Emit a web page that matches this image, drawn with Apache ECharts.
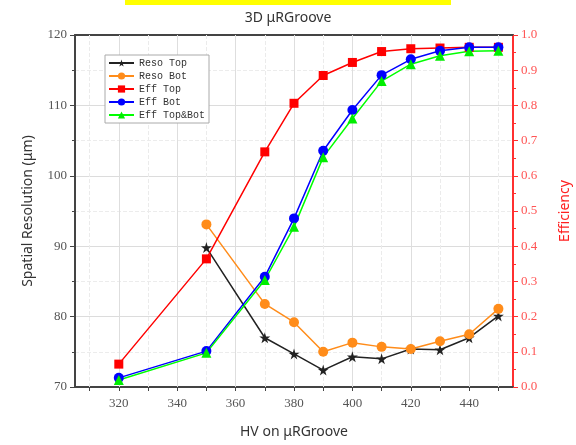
<!DOCTYPE html>
<html>
<head>
<meta charset="utf-8">
<script src="https://cdn.jsdelivr.net/npm/echarts@6/dist/echarts.min.js"></script>
<style>
  html, body { margin: 0; padding: 0; background: #fff; }
  #chart { width: 576px; height: 445px; }
</style>
</head>
<body>
<div id="chart"></div>
<script>
// HV values (x)
const hv = [320, 350, 370, 380, 390, 400, 410, 420, 430, 440, 450];
const hvReso = [350, 370, 380, 390, 400, 410, 420, 430, 440, 450];

// resolution (left axis, µm)
const resoTop = [89.8, 77.0, 74.7, 72.4, 74.3, 74.0, 75.4, 75.3, 77.0, 80.1];
const resoBot = [93.1, 81.8, 79.2, 75.0, 76.3, 75.7, 75.4, 76.5, 77.5, 81.1];

// efficiency (right axis)
const effTop = [0.065, 0.364, 0.668, 0.806, 0.885, 0.922, 0.953, 0.961, 0.963, 0.965, 0.965];
const effBot = [0.026, 0.102, 0.313, 0.479, 0.671, 0.787, 0.886, 0.931, 0.955, 0.965, 0.965];
const effBoth = [0.020, 0.097, 0.304, 0.455, 0.653, 0.763, 0.869, 0.917, 0.941, 0.954, 0.955];

// tick labels
const xTicks = [310, 320, 330, 340, 350, 360, 370, 380, 390, 400, 410, 420, 430, 440, 450];
const xLabels = [320, 340, 360, 380, 400, 420, 440];

const pair = (xs, ys) => xs.map((x, i) => [x, ys[i]]);

const starPath = 'path://M50,0 L61,35 L98,35 L68,57 L79,91 L50,70 L21,91 L32,57 L2,35 L39,35 Z';
const serif = '"Liberation Serif", "DejaVu Serif", serif';
const sans = '"Noto Sans", "DejaVu Sans", sans-serif';

// vertical grid: solid on labelled ticks, dashed between
const vGrid = xTicks.map(v => ({
  xAxis: v,
  lineStyle: xLabels.includes(v)
    ? { color: '#dedede', type: 'solid', width: 1 }
    : { color: '#ebebeb', type: 'dashed', width: 1 }
}));

const chart = echarts.init(document.getElementById('chart'));

const option = {
  animation: false,
  title: {
    text: '3D μRGroove',
    left: 'center',
    top: 6,
    textStyle: { fontFamily: sans, fontSize: 14, fontWeight: 'normal', color: '#333' }
  },
  graphic: [
    { type: 'rect', shape: { x: 125, y: 0, width: 326, height: 5 }, style: { fill: '#ffff00' } }
  ],
  grid: { left: 75, right: 63, top: 35, bottom: 58, outerBoundsMode: 'none' },
  legend: {
    orient: 'vertical',
    left: 105,
    top: 55,
    itemWidth: 25,
    itemHeight: 9,
    itemGap: 3,
    padding: [3, 4, 3, 3],
    backgroundColor: '#fff',
    borderColor: '#aaa',
    borderWidth: 1,
    textStyle: { fontFamily: '"Liberation Mono", monospace', fontSize: 10, color: '#333' },
    data: ['Reso Top', 'Reso Bot', 'Eff Top', 'Eff Bot', 'Eff Top&Bot']
  },
  xAxis: [
    {
      type: 'value',
      min: 305,
      max: 455,
      name: 'HV on μRGroove',
      nameLocation: 'middle',
      nameGap: 38,
      nameTextStyle: { fontFamily: sans, fontSize: 14, color: '#333' },
      axisLine: { lineStyle: { color: '#444', width: 2 } },
      axisTick: { customValues: xTicks, length: 4, lineStyle: { color: '#444' } },
      axisLabel: { customValues: xLabels, fontFamily: serif, fontSize: 13, color: '#555', margin: 10 },
      splitLine: { show: false }
    },
    {
      type: 'value',
      position: 'top',
      min: 305,
      max: 455,
      axisLine: { show: true, lineStyle: { color: '#444', width: 2 } },
      axisTick: { show: true, inside: true, customValues: xTicks, length: 4, lineStyle: { color: '#444' } },
      axisLabel: { show: false },
      splitLine: { show: false }
    }
  ],
  yAxis: [
    {
      type: 'value',
      min: 70,
      max: 120,
      interval: 10,
      name: 'Spatial Resolution (μm)',
      nameLocation: 'middle',
      nameGap: 40,
      nameTextStyle: { fontFamily: sans, fontSize: 14, color: '#333' },
      axisLine: { show: true, lineStyle: { color: '#444', width: 2 } },
      axisTick: { show: true, length: 5, lineStyle: { color: '#444' } },
      minorTick: { show: true, splitNumber: 2, length: 3, lineStyle: { color: '#444' } },
      axisLabel: { fontFamily: serif, fontSize: 13, color: '#555', margin: 8 },
      splitLine: { show: true, lineStyle: { color: '#dcdcdc' } },
      minorSplitLine: { show: true, lineStyle: { color: '#ececec', type: 'dashed' } }
    },
    {
      type: 'value',
      min: 0,
      max: 1,
      interval: 0.1,
      position: 'right',
      name: 'Efficiency',
      nameLocation: 'middle',
      nameRotate: 90,
      nameGap: 45,
      nameTextStyle: { fontFamily: sans, fontSize: 14, color: '#ff2020' },
      axisLine: { show: true, lineStyle: { color: '#ff3030', width: 2 } },
      axisTick: { show: true, length: 5, lineStyle: { color: '#ff3030' } },
      minorTick: { show: true, splitNumber: 2, length: 3, lineStyle: { color: '#ff3030' } },
      axisLabel: {
        fontFamily: serif, fontSize: 13, color: '#ff5555', margin: 8,
        formatter: v => v.toFixed(1)
      },
      splitLine: { show: false }
    }
  ],
  series: [
    {
      name: 'Reso Top', type: 'line', yAxisIndex: 0,
      data: pair(hvReso, resoTop),
      symbol: starPath, symbolSize: 11,
      lineStyle: { color: '#222', width: 1.5 }, itemStyle: { color: '#222' },
      markLine: {
        silent: true, symbol: 'none', z: 1,
        label: { show: false },
        data: vGrid
      }
    },
    {
      name: 'Reso Bot', type: 'line', yAxisIndex: 0,
      data: pair(hvReso, resoBot),
      symbol: 'circle', symbolSize: 10,
      lineStyle: { color: '#ff8c1a', width: 1.5 }, itemStyle: { color: '#ff8c1a' }
    },
    {
      name: 'Eff Top', type: 'line', yAxisIndex: 1,
      data: pair(hv, effTop),
      symbol: 'rect', symbolSize: 9,
      lineStyle: { color: '#ff0000', width: 1.5 }, itemStyle: { color: '#ff0000' }
    },
    {
      name: 'Eff Bot', type: 'line', yAxisIndex: 1,
      data: pair(hv, effBot),
      symbol: 'circle', symbolSize: 10,
      lineStyle: { color: '#0000ff', width: 1.5 }, itemStyle: { color: '#0000ff' }
    },
    {
      name: 'Eff Top&Bot', type: 'line', yAxisIndex: 1,
      data: pair(hv, effBoth),
      symbol: 'triangle', symbolSize: 10,
      lineStyle: { color: '#00ff00', width: 1.5 }, itemStyle: { color: '#00ee00' }
    }
  ]
};

chart.setOption(option);
</script>
</body>
</html>
